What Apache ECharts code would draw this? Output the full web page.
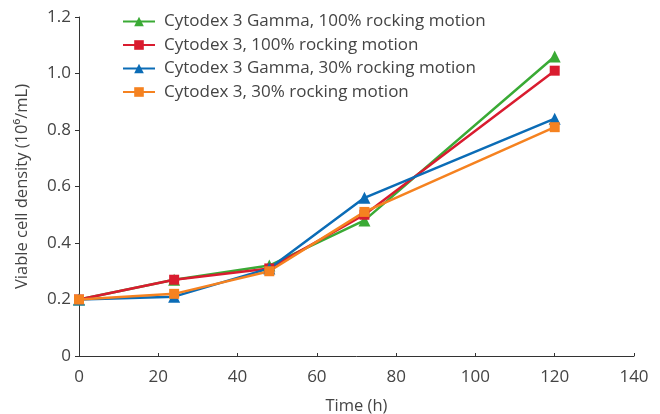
<!DOCTYPE html>
<html><head><meta charset="utf-8">
<script src="https://cdn.jsdelivr.net/npm/echarts@6/dist/echarts.min.js"></script>
<style>html,body{margin:0;padding:0;background:#fff}#c{width:660px;height:414px}</style>
</head><body><div id="c"></div>
<script>
const times = [0, 24, 48, 72, 120];
const seriesNames = [
  'Cytodex 3 Gamma, 100% rocking motion',
  'Cytodex 3, 100% rocking motion',
  'Cytodex 3 Gamma, 30% rocking motion',
  'Cytodex 3, 30% rocking motion'
];
const gamma100 = [0.20, 0.27, 0.32, 0.48, 1.06];
const cytodex100 = [0.20, 0.27, 0.31, 0.50, 1.01];
const gamma30 = [0.20, 0.21, 0.31, 0.56, 0.84];
const cytodex30 = [0.20, 0.22, 0.30, 0.51, 0.81];
const colors = ['#3aaa35', '#d91c2f', '#0b6cb6', '#f58220'];
const symbols = ['triangle', 'rect', 'triangle', 'rect'];
const values = [gamma100, cytodex100, gamma30, cytodex30];

const font = 'Open Sans';
const chart = echarts.init(document.getElementById('c'));
chart.setOption({
  animation: false,
  grid: {left: 79, right: 26, top: 17, bottom: 58, containLabel: false, outerBoundsMode: 'none'},
  legend: {
    orient: 'vertical', left: 117, top: 8, itemGap: 6.5, itemWidth: 32, itemHeight: 12,
    textStyle: {fontFamily: font, fontSize: 17, color: '#444', padding: [0, 0, 0, 4]},
    data: seriesNames
  },
  xAxis: {
    type: 'value', min: 0, max: 140, interval: 20,
    name: 'Time (h)', nameLocation: 'middle', nameGap: 42,
    nameTextStyle: {fontFamily: font, fontSize: 16.5, color: '#444'},
    axisLine: {show: true, lineStyle: {color: '#333', width: 1}},
    axisTick: {show: true, inside: true, length: 3, lineStyle: {color: '#333'}},
    axisLabel: {fontFamily: font, fontSize: 17, color: '#444', margin: 13},
    splitLine: {show: false}
  },
  yAxis: {
    type: 'value', min: 0, max: 1.2, interval: 0.2,
    name: 'Viable cell density (10⁶/mL)', nameLocation: 'middle', nameGap: 48, nameRotate: 90,
    nameTextStyle: {fontFamily: font, fontSize: 16.5, color: '#444'},
    axisLine: {show: true, lineStyle: {color: '#333', width: 1}},
    axisTick: {show: true, inside: false, length: 4, lineStyle: {color: '#333'}},
    axisLabel: {fontFamily: font, fontSize: 17, color: '#444', margin: 8,
      formatter: v => v === 0 ? '0' : v.toFixed(1)},
    splitLine: {show: false}
  },
  series: seriesNames.map((n, i) => ({
    name: n, type: 'line',
    data: times.map((t, j) => [t, values[i][j]]),
    symbol: symbols[i], symbolSize: symbols[i] === 'rect' ? 10 : 12,
    lineStyle: {color: colors[i], width: 2.5},
    itemStyle: {color: colors[i]}
  }))
});
</script></body></html>
